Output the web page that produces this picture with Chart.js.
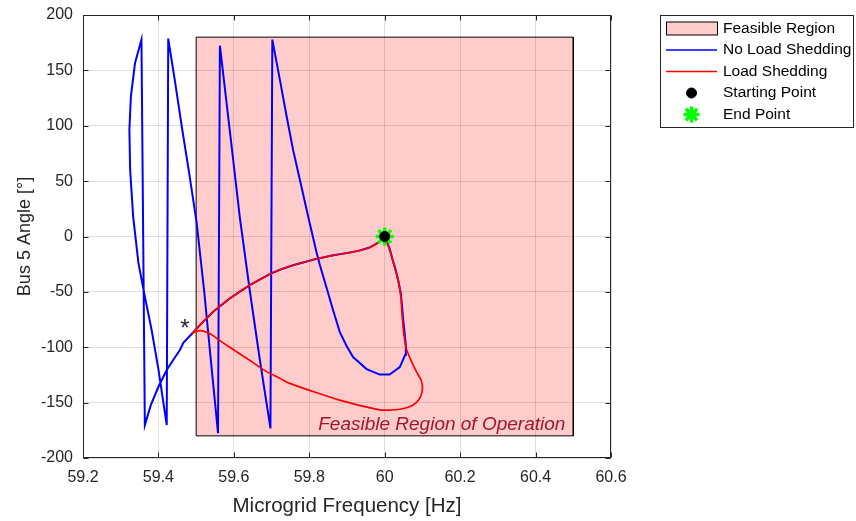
<!DOCTYPE html>
<html>
<head>
<meta charset="utf-8">
<script src="https://cdn.jsdelivr.net/npm/chart.js@4.4.1/dist/chart.umd.min.js"></script>
<style>
html,body{margin:0;padding:0;background:#fff;}
#wrap{width:856px;height:521px;position:relative;}
</style>
</head>
<body>
<div id="wrap"><canvas id="c" width="856" height="521"></canvas></div>
<script>
// ---- axis ticks ----
const xTicks = [59.2, 59.4, 59.6, 59.8, 60, 60.2, 60.4, 60.6];
const xTickLabels = ['59.2', '59.4', '59.6', '59.8', '60', '60.2', '60.4', '60.6'];
const yTicks = [-200, -150, -100, -50, 0, 50, 100, 150, 200];
const yTickLabels = ['-200', '-150', '-100', '-50', '0', '50', '100', '150', '200'];

// ---- series labels ----
const seriesLabels = ['Feasible Region', 'No Load Shedding', 'Load Shedding', 'Starting Point', 'End Point'];

// ---- feasible region (rectangle corners) ----
const regionFreq  = [59.5, 59.5, 60.5, 60.5, 59.5];
const regionAngle = [-180, 180, 180, -180, -180];

// ---- No Load Shedding trajectory (blue) ----
const blueFreq = [
  60.0, 59.985, 59.96, 59.93, 59.899, 59.863, 59.81, 59.757, 59.722, 59.695, 59.642, 59.589, 59.545, 59.51, 59.49,
  59.466, 59.457, 59.44, 59.422, 59.4, 59.38, 59.364,
  59.355, 59.338, 59.327, 59.323, 59.325, 59.333, 59.347, 59.364, 59.382, 59.4, 59.422,
  59.426, 59.444, 59.462, 59.481, 59.501, 59.521, 59.539, 59.558,
  59.563, 59.589, 59.616, 59.642, 59.669, 59.697,
  59.702, 59.722, 59.74, 59.757, 59.775, 59.797, 59.819, 59.828, 59.846, 59.863, 59.881, 59.899, 59.916, 59.952, 59.987,
  60.013, 60.04, 60.054, 60.056, 60.053, 60.049, 60.046, 60.043, 60.036, 60.029, 60.021, 60.014, 60.006, 60.0
];
const blueAngle = [
  0, -5, -10, -13, -15, -17, -21, -26, -30, -34, -44, -56, -68, -80, -87.4,
  -96, -102.5, -111, -120.6, -135.7, -152, -170.3,
  177.8, 156.7, 126.5, 96.4, 60.2, 18, -24, -54.3, -84.4, -120, -170.3,
  178.7, 139.8, 99.1, 58.4, 13.2, -48.3, -111.6, -177.6,
  172.3, 96.3, 16.8, -48.3, -111.5, -173.3,
  177.8, 141.6, 108.4, 78.3, 51.2, 18, -13.9, -25.7, -46.5, -66.4, -86.3, -98.9, -108.9, -119.7, -124.7,
  -124.7, -117.9, -107, -98, -88, -75, -63, -52, -40, -30, -21, -12, -5, 0
];

// ---- Load Shedding trajectory (red) ----
const redFreq = [
  60.0, 59.985, 59.96, 59.93, 59.899, 59.863, 59.81, 59.757, 59.722, 59.695, 59.642, 59.589, 59.545, 59.51, 59.49,
  59.5, 59.514, 59.532, 59.545, 59.563, 59.589, 59.634, 59.687, 59.722, 59.748, 59.81, 59.88, 59.95, 59.987, 60.013,
  60.04, 60.066, 60.085, 60.095, 60.1, 60.097, 60.084, 60.07, 60.057, 60.05, 60.046, 60.043, 60.036, 60.024, 60.013, 60.004, 60.0
];
const redAngle = [
  0, -5, -10, -13, -15, -17, -21, -26, -30, -34, -44, -56, -68, -80, -87.4,
  -85.8, -85, -87, -89.5, -94, -100, -110, -122, -128, -132.6, -140, -147.7, -153.8, -156.5, -156.8,
  -156, -153.8, -149.5, -144.5, -138, -130, -122, -112, -101, -86, -70, -55, -40, -25, -12, -3, 0
];

// ---- markers ----
const startFreq = [60.0];
const startAngle = [0];
const endFreq = [60.0];
const endAngle = [0];

// ---- annotations ----
const starNote = {text: '*', freq: 59.47, angle: -84};
const regionNote = {text: 'Feasible Region of Operation', freq: 60.479, angle: -174.8};

const FONT = '"Liberation Sans", Arial, Helvetica, sans-serif';
const AXCOL = '#262626';

function pts(xs, ys) { return xs.map((x, i) => ({x: x, y: ys[i]})); }

const framePlugin = {
  id: 'frame',
  afterDatasetsDraw(chart) {
    const {ctx, chartArea: a, scales: {x, y}} = chart;
    const L = Math.round(a.left) + 0.5, R = Math.round(a.right) - 0.5;
    const T = Math.round(a.top) + 0.5, B = Math.round(a.bottom) - 0.5;
    ctx.save();
    ctx.strokeStyle = AXCOL; ctx.lineWidth = 1;
    ctx.beginPath();
    xTicks.forEach(v => {
      const px = Math.round(x.getPixelForValue(v)) + 0.5;
      ctx.moveTo(px, B); ctx.lineTo(px, B - 5);
      ctx.moveTo(px, T); ctx.lineTo(px, T + 5);
    });
    yTicks.forEach(v => {
      const py = Math.round(y.getPixelForValue(v)) + 0.5;
      ctx.moveTo(L, py); ctx.lineTo(L + 5, py);
      ctx.moveTo(R, py); ctx.lineTo(R - 5, py);
    });
    ctx.stroke();
    ctx.strokeRect(L, T, R - L, B - T);
    // annotations
    ctx.fillStyle = AXCOL;
    ctx.font = '24px ' + FONT;
    ctx.textAlign = 'center'; ctx.textBaseline = 'middle';
    ctx.fillText(starNote.text, x.getPixelForValue(starNote.freq), y.getPixelForValue(starNote.angle));
    ctx.fillStyle = '#A2142F';
    ctx.font = 'italic 19px ' + FONT;
    ctx.textAlign = 'right'; ctx.textBaseline = 'alphabetic';
    ctx.fillText(regionNote.text, x.getPixelForValue(regionNote.freq), y.getPixelForValue(regionNote.angle));
    ctx.restore();
  }
};

const legendPlugin = {
  id: 'mlegend',
  afterDraw(chart) {
    const ctx = chart.ctx;
    const ds = chart.data.datasets;
    const bx = 660.5, by = 15.5, bw = 193, bh = 112;
    ctx.save();
    ctx.fillStyle = '#fff'; ctx.fillRect(bx, by, bw, bh);
    ctx.strokeStyle = AXCOL; ctx.lineWidth = 1; ctx.strokeRect(bx, by, bw, bh);
    const rows = [28.5, 50, 71.5, 93, 114.5];
    const sx0 = 666, sx1 = 717, sxc = 691.5;
    ds.forEach((d, i) => {
      const yc = rows[i];
      if (i === 0) {
        ctx.fillStyle = d.backgroundColor;
        ctx.fillRect(sx0 + 0.5, yc - 6.5, sx1 - sx0, 13);
        ctx.strokeStyle = d.borderColor; ctx.lineWidth = 1;
        ctx.strokeRect(sx0 + 0.5, yc - 6.5, sx1 - sx0, 13);
      } else if (d.showMarker) {
        ctx.fillStyle = d.pointBackgroundColor;
        ctx.strokeStyle = d.pointBorderColor;
        ctx.lineWidth = d.pointBorderWidth;
        Chart.helpers.drawPoint(ctx, {pointStyle: d.pointStyle, radius: d.legendRadius, rotation: 0, borderWidth: d.pointBorderWidth}, sxc, yc);
      } else {
        ctx.strokeStyle = d.borderColor; ctx.lineWidth = 1.6;
        ctx.beginPath(); ctx.moveTo(sx0, yc); ctx.lineTo(sx1, yc); ctx.stroke();
      }
      ctx.fillStyle = '#000';
      ctx.font = '15.5px ' + FONT;
      ctx.textAlign = 'left'; ctx.textBaseline = 'middle';
      ctx.fillText(d.label, 723, yc);
    });
    ctx.restore();
  }
};

new Chart(document.getElementById('c'), {
  type: 'line',
  data: {
    datasets: [
      {
        label: seriesLabels[0], data: pts(regionFreq, regionAngle),
        borderColor: '#000000', borderWidth: 1, backgroundColor: 'rgba(255,0,0,0.2)',
        fill: 'shape', pointRadius: 0, tension: 0, order: 5
      },
      {
        label: seriesLabels[1], data: pts(blueFreq, blueAngle),
        borderColor: '#0000FF', borderWidth: 2, fill: false, pointRadius: 0, tension: 0, order: 4
      },
      {
        label: seriesLabels[2], data: pts(redFreq, redAngle),
        borderColor: '#FF0000', borderWidth: 1.7, fill: false, pointRadius: 0, tension: 0.25, order: 3
      },
      {
        label: seriesLabels[3], data: pts(startFreq, startAngle), showLine: false, showMarker: true,
        pointStyle: 'circle', pointRadius: 5, legendRadius: 5, pointBackgroundColor: '#000000', pointBorderColor: '#000000',
        pointBorderWidth: 1, borderColor: '#000000', backgroundColor: '#000000', order: 1
      },
      {
        label: seriesLabels[4], data: pts(endFreq, endAngle), showLine: false, showMarker: true,
        pointStyle: 'star', pointRadius: 9, legendRadius: 8, pointBackgroundColor: '#00FF00', pointBorderColor: '#00FF00',
        pointBorderWidth: 3.5, borderColor: '#00FF00', backgroundColor: '#00FF00', order: 2
      }
    ]
  },
  options: {
    responsive: false,
    animation: false,
    devicePixelRatio: 1,
    events: [],
    layout: {padding: {left: 0, right: 245, top: 15, bottom: 0}},
    plugins: {legend: {display: false}, tooltip: {enabled: false}},
    scales: {
      x: {
        type: 'linear', min: 59.2, max: 60.6,
        afterBuildTicks: s => { s.ticks = xTicks.map(v => ({value: v})); },
        afterFit: s => { s.height = 63; s.paddingLeft = 0; s.paddingRight = 0; },
        ticks: {
          autoSkip: false, maxRotation: 0, padding: 10, color: AXCOL,
          font: {family: FONT, size: 16},
          callback: (v, i) => xTickLabels[i]
        },
        grid: {color: 'rgba(38,38,38,0.15)', lineWidth: 1, drawTicks: false},
        border: {display: false},
        title: {display: true, text: 'Microgrid Frequency [Hz]', color: AXCOL,
                font: {family: FONT, size: 20.5}, padding: {top: 0, bottom: 2}}
      },
      y: {
        type: 'linear', min: -200, max: 200,
        afterBuildTicks: s => { s.ticks = yTicks.map(v => ({value: v})); },
        afterFit: s => { s.width = 83; s.paddingTop = 0; s.paddingBottom = 0; },
        ticks: {
          autoSkip: false, padding: 10, color: AXCOL,
          font: {family: FONT, size: 16},
          callback: (v, i) => yTickLabels[i]
        },
        grid: {color: 'rgba(38,38,38,0.15)', lineWidth: 1, drawTicks: false},
        border: {display: false},
        title: {display: true, text: 'Bus 5 Angle [°]', color: AXCOL,
                font: {family: FONT, size: 18}, padding: {top: 14, bottom: 0}}
      }
    }
  },
  plugins: [framePlugin, legendPlugin]
});
</script>
</body>
</html>
